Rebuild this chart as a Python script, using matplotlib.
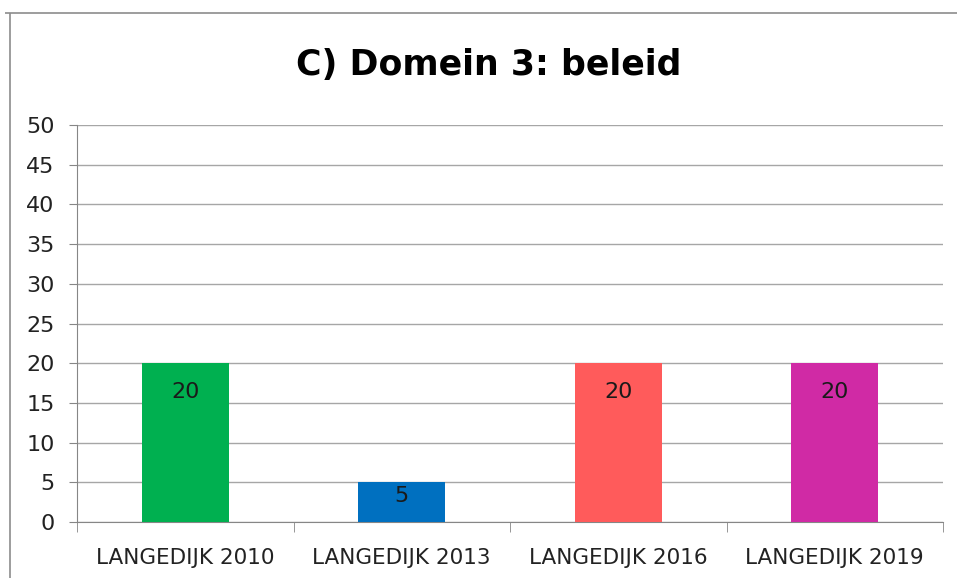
import matplotlib
matplotlib.use("Agg")
import matplotlib.pyplot as plt
from matplotlib.lines import Line2D

categories = ["LANGEDIJK 2010", "LANGEDIJK 2013", "LANGEDIJK 2016", "LANGEDIJK 2019"]
values = [20, 5, 20, 20]
colors = ["#00B050", "#0070C0", "#FF5B5B", "#D02AA5"]

W, H = 957, 578
fig = plt.figure(figsize=(W / 100, H / 100), dpi=100)
ax = fig.add_axes([77 / W, 56 / H, 866 / W, 397 / H])

x = range(len(categories))
ax.bar(x, values, width=0.4, color=colors, zorder=3)

ax.set_xlim(-0.5, len(categories) - 0.5)
ax.set_ylim(0, 50)
ax.set_yticks(range(0, 51, 5))
ax.set_xticks(list(x))
ax.set_xticklabels(categories)

# tick marks at category boundaries, labels centered under bars
ax.set_xticks([i - 0.5 for i in range(len(categories) + 1)], minor=True)
ax.tick_params(axis="x", which="major", length=0, pad=19, labelsize=15.5, labelcolor="#222222")
ax.tick_params(axis="x", which="minor", length=7, color="#868686", direction="out")
ax.tick_params(axis="y", length=6, color="#868686", labelsize=16, pad=10, labelcolor="#222222")

ax.grid(axis="y", color="#A6A6A6", linewidth=1, zorder=0)
for side in ["top", "right"]:
    ax.spines[side].set_visible(False)
ax.spines["left"].set_color("#868686")
ax.spines["bottom"].set_color("#868686")

# data labels inside the end of each bar
px_per_unit = 397 / 50
for xi, v in zip(x, values):
    off = min(29, v * px_per_unit / 2.8)
    ax.annotate(str(v), (xi, v), xytext=(0, -off * 0.72), textcoords="offset points",
                ha="center", va="center", fontsize=16, color="#1a1a1a", zorder=4)

fig.text(489 / W, 1 - 65 / H, "C) Domein 3: beleid", ha="center", va="center",
         fontsize=25, fontweight="bold")

# chart frame (partly cut off)
fig.add_artist(Line2D([5 / W, 1], [1 - 13 / H, 1 - 13 / H], transform=fig.transFigure,
                      color="#8c8c8c", linewidth=1.2, solid_capstyle="butt"))
fig.add_artist(Line2D([10 / W, 10 / W], [0, 1 - 13 / H], transform=fig.transFigure,
                      color="#8c8c8c", linewidth=1.2, solid_capstyle="butt"))

fig.savefig("out.png", dpi=100)
